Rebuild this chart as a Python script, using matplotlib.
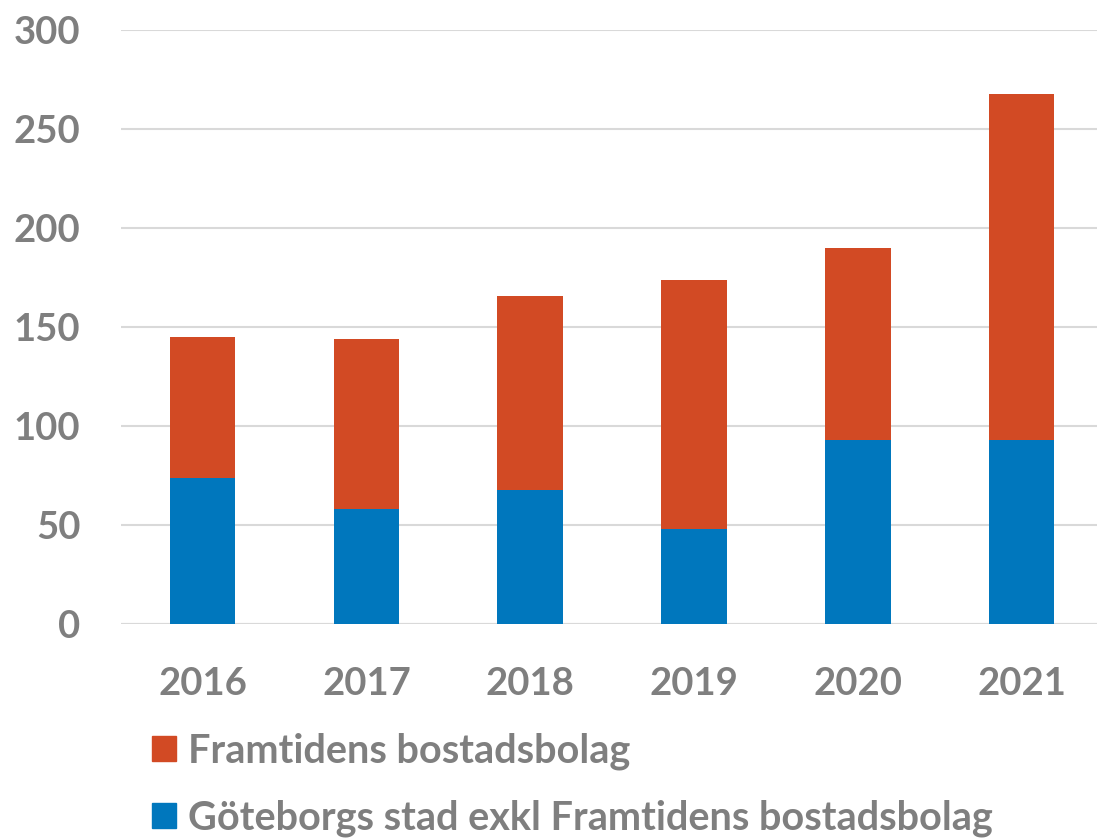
import matplotlib
matplotlib.use('Agg')
import matplotlib.pyplot as plt
from matplotlib.patches import Patch

years = ['2016', '2017', '2018', '2019', '2020', '2021']
# Göteborgs stad exkl Framtidens bostadsbolag (bottom, blue)
goteborg = [74, 58, 68, 48, 93, 93]
# Framtidens bostadsbolag (top, red)
framtiden = [71, 86, 98, 126, 97, 175]

blue = '#0077BD'
red = '#D24A24'
grey = '#7F7F7F'

plt.rcParams['font.family'] = ['Lato', 'DejaVu Sans']
plt.rcParams['font.weight'] = 'bold'

fig = plt.figure(figsize=(10.97, 8.4), dpi=100)
ax = fig.add_axes([0.110, 0.257, 0.896, 0.707])

x = range(len(years))
ax.bar(x, goteborg, width=0.4, color=blue, zorder=3)
ax.bar(x, framtiden, width=0.4, bottom=goteborg, color=red, zorder=3)

ax.set_ylim(0, 300)
ax.set_xlim(-0.5, len(years) - 0.5)
ax.set_yticks(range(0, 301, 50))
ax.set_xticks(list(x))
ax.set_xticklabels(years)
ax.yaxis.grid(True, color='#D9D9D9', linewidth=1.5, zorder=0)
for s in ax.spines.values():
    s.set_visible(False)
ax.axhline(0, color='#D9D9D9', linewidth=1.5, zorder=1)
ax.tick_params(axis='both', length=0, labelsize=27.5, colors=grey, labelcolor=grey)
ax.tick_params(axis='y', pad=29)
ax.tick_params(axis='x', pad=31)
for lbl in ax.get_xticklabels() + ax.get_yticklabels():
    lbl.set_fontweight('bold')

handles = [Patch(color=red, label='Framtidens bostadsbolag'),
           Patch(color=blue, label='Göteborgs stad exkl Framtidens bostadsbolag')]
leg = fig.legend(handles=handles, loc='upper left', bbox_to_anchor=(0.139, 0.128),
                 frameon=False, fontsize=28.5, handlelength=0.6, handleheight=0.6,
                 handletextpad=0.3, labelspacing=0.74, borderaxespad=0, borderpad=0)
for t in leg.get_texts():
    t.set_color(grey)
    t.set_fontweight('bold')

fig.savefig('out.png', dpi=100)
